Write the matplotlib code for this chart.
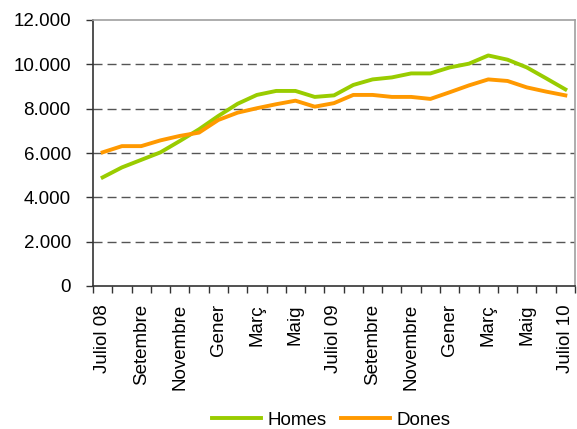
import matplotlib
matplotlib.use("Agg")
import matplotlib.pyplot as plt
from matplotlib.ticker import FuncFormatter, FixedLocator

plt.rcParams['font.family'] = ['Liberation Sans', 'DejaVu Sans']

months = ["Juliol 08", "Agost", "Setembre", "Octubre", "Novembre", "Desembre",
          "Gener", "Febrer", "Març", "Abril", "Maig", "Juny",
          "Juliol 09", "Agost", "Setembre", "Octubre", "Novembre", "Desembre",
          "Gener", "Febrer", "Març", "Abril", "Maig", "Juny", "Juliol 10"]

homes = [4900, 5350, 5690, 6030, 6540, 7070, 7670, 8220, 8620, 8800, 8800, 8530,
         8600, 9070, 9320, 9410, 9590, 9590, 9860, 10030, 10400, 10210, 9860, 9370, 8870]
dones = [6030, 6310, 6310, 6570, 6770, 6920, 7490, 7820, 8020, 8200, 8360, 8090,
         8250, 8620, 8620, 8530, 8530, 8440, 8740, 9050, 9320, 9250, 8960, 8770, 8600]

fig = plt.figure(figsize=(5.77, 4.29), dpi=100)
ax = fig.add_axes([93/577, 1 - 286/429, (575 - 93)/577, (286 - 20)/429])

x = list(range(len(months)))
ax.plot(x, homes, color='#99CC00', lw=2.8, label='Homes', solid_joinstyle='round', zorder=3)
ax.plot(x, dones, color='#FF9900', lw=2.8, label='Dones', solid_joinstyle='round', zorder=3)

ax.set_xlim(-0.5, len(months) - 0.5)
ax.set_ylim(0, 12000)
ax.set_yticks(range(0, 12001, 2000))
ax.yaxis.set_major_formatter(FuncFormatter(lambda v, p: f"{int(v):,}".replace(",", ".")))

ax.xaxis.set_major_locator(FixedLocator([i - 0.5 for i in range(len(months) + 1)]))
ax.set_xticklabels([])
ax.xaxis.set_minor_locator(FixedLocator(x[::2]))
ax.set_xticklabels([months[i] for i in x[::2]], minor=True, rotation=90, fontsize=13.5)
ax.tick_params(axis='x', which='minor', length=0, pad=13)
ax.tick_params(axis='x', which='major', length=5, width=1, color='#333333', direction='out')
ax.tick_params(axis='y', length=5, width=1, color='#333333', labelsize=13.5, pad=11)

for v in range(2000, 12000, 2000):
    ax.axhline(v, color='#555555', lw=1, linestyle=(0, (6.5, 3.6)), zorder=1)

for s in ['top', 'right']:
    ax.spines[s].set_color('#a0a0a0')
    ax.spines[s].set_linewidth(1.2)
for s in ['left', 'bottom']:
    ax.spines[s].set_color('#333333')
    ax.spines[s].set_linewidth(1.2)

fig.legend(loc='center', bbox_to_anchor=(0.574, 0.021), ncol=2, frameon=False,
           fontsize=13.5, handlelength=2.6, handletextpad=0.35, columnspacing=0.8,
           borderpad=0, borderaxespad=0)

fig.savefig('out.png', dpi=100)
